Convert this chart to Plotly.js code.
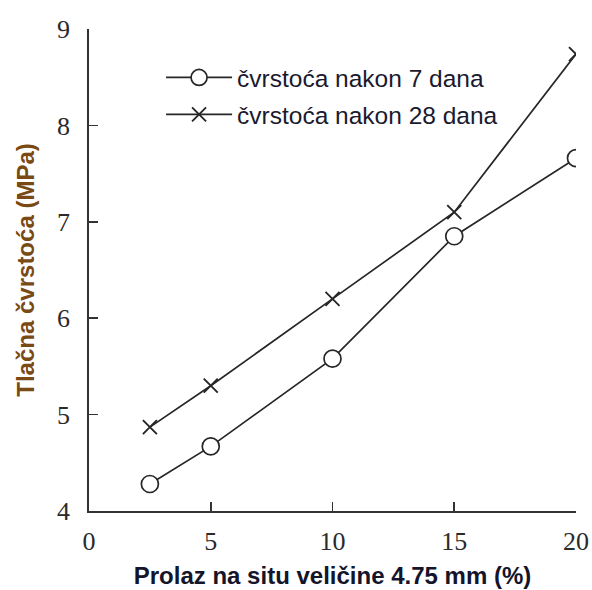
<!DOCTYPE html>
<html>
<head>
<meta charset="utf-8">
<script src="https://cdn.plot.ly/plotly-3.0.1.min.js"></script>
<style>html,body{margin:0;padding:0;background:#fff}#chart{width:592px;height:590px}</style>
</head>
<body>
<div id="chart"></div>
<script>
const prolaz = [2.5, 5, 10, 15, 20];
const cvrstoca7 = [4.28, 4.67, 5.58, 6.85, 7.66];
const cvrstoca28 = [4.87, 5.30, 6.20, 7.10, 8.74];
const seriesNames = ['čvrstoća nakon 7 dana', 'čvrstoća nakon 28 dana'];
const xTickVals = [0, 5, 10, 15, 20];
const yTickVals = [4, 5, 6, 7, 8, 9];
const xTitle = 'Prolaz na situ veličine 4.75 mm (%)';
const yTitle = 'Tlačna čvrstoća (MPa)';

const lineColor = '#262626';
const traces = [
  {x: prolaz, y: cvrstoca7, name: seriesNames[0], legendgroup: 'a', mode: 'lines+markers', type: 'scatter',
   line: {color: lineColor, width: 1.7},
   marker: {symbol: 'circle', size: 17, color: '#fff', line: {color: lineColor, width: 1.7}}},
  {x: prolaz, y: cvrstoca28, name: seriesNames[1], legendgroup: 'b', mode: 'lines+markers', type: 'scatter',
   line: {color: lineColor, width: 1.7},
   marker: {symbol: 'x-thin', size: 14, color: lineColor, line: {color: lineColor, width: 1.9}}}
];

const tickFont = {family: '"Liberation Serif", "Times New Roman", serif', size: 26, color: '#2a2a2a'};
const xTitleFont = {family: '"Liberation Sans", Arial, sans-serif', size: 24, color: '#14142a', weight: 'bold'};
const yTitleFont = {family: '"Liberation Sans", Arial, sans-serif', size: 24, color: '#7a4a14', weight: 'bold'};

const layout = {
  width: 592, height: 590,
  margin: {l: 89, r: 16, t: 29, b: 79},
  paper_bgcolor: '#fff', plot_bgcolor: '#fff',
  showlegend: true,
  legend: {x: 0.148, y: 0.946, xanchor: 'left', yanchor: 'top', bgcolor: 'rgba(0,0,0,0)',
           font: {family: '"Liberation Sans", Arial, sans-serif', size: 24.5, color: '#1a1a2e'},
           itemwidth: 66, traceorder: 'grouped', tracegroupgap: 2},
  xaxis: {range: [0, 20], tickvals: xTickVals, ticks: 'inside', ticklen: 9, tickwidth: 1.6,
          tickcolor: '#333', showline: true, linecolor: '#333', linewidth: 1.7, showgrid: false, zeroline: false,
          tickfont: tickFont, ticklabelstandoff: 6, automargin: false,
          title: {text: xTitle, font: xTitleFont, standoff: 12}},
  yaxis: {range: [4, 9], tickvals: yTickVals, ticks: 'inside', ticklen: 9, tickwidth: 1.6,
          tickcolor: '#333', showline: true, linecolor: '#333', linewidth: 1.7, showgrid: false, zeroline: false,
          tickfont: tickFont, ticklabelstandoff: 12, automargin: false,
          title: {text: yTitle, font: yTitleFont, standoff: 16}}
};
Plotly.newPlot('chart', traces, layout, {displayModeBar: false, staticPlot: true});
</script>
</body>
</html>
